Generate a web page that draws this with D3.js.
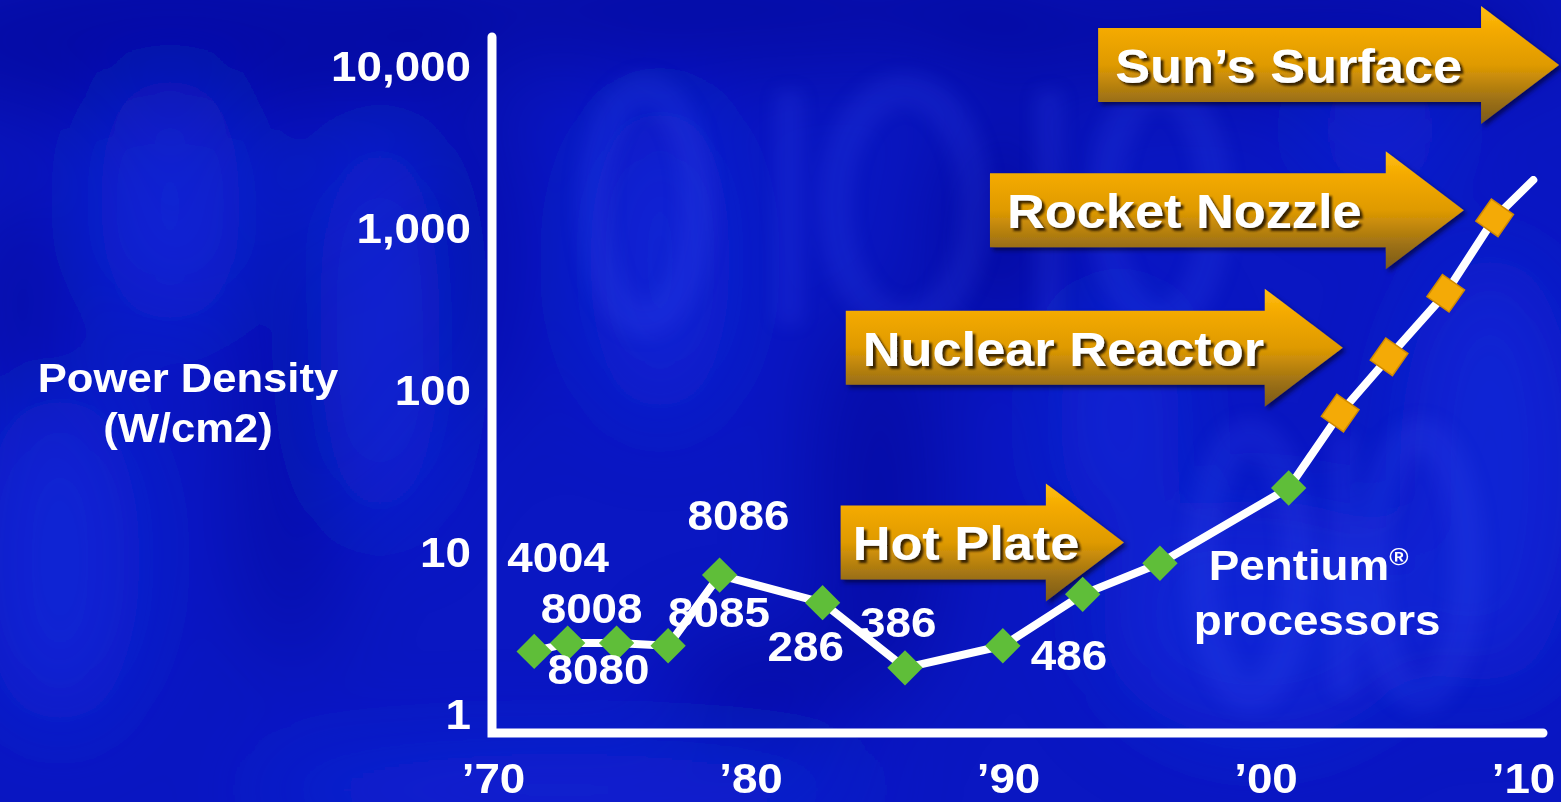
<!DOCTYPE html>
<html><head><meta charset="utf-8">
<script src="https://cdn.jsdelivr.net/npm/d3@7"></script>
<style>
html,body{margin:0;padding:0;background:#0a18c4;overflow:hidden}
svg{display:block}
text{font-family:"Liberation Sans",Arial,Helvetica,sans-serif;font-weight:bold}
</style>
</head><body>
<svg id="c" width="1561" height="802"></svg>
<script>
// ---- data ----
const yearTicks = [1970, 1980, 1990, 2000, 2010];
const yearTickLabels = ["’70", "’80", "’90", "’00", "’10"];
const densityTicks = [1, 10, 100, 1000, 10000];
const densityTickLabels = ["1", "10", "100", "1,000", "10,000"];

const chipYears   = [1971.6, 1972.9, 1974.8, 1976.8, 1978.8, 1982.8, 1986.0, 1989.8, 1992.9, 1995.9, 2000.9, 2002.9, 2004.8, 2007.0, 2008.9];
const chipDensity = [2.4, 2.7, 2.7, 2.6, 7.1, 4.8, 1.9, 2.6, 5.4, 8.4, 24.5, 71, 158, 390, 1140];
const chipKind    = ["past","past","past","past","past","past","past","past","past","past","past","projected","projected","projected","projected"];
const trendEndYear = 2010.4;
const trendEndDensity = 1950;

const chipLabels = ["4004", "8008", "8080", "8085", "8086", "286", "386", "486"];
const pentiumLabel = ["Pentium", "processors"];

const referenceNames     = ["Hot Plate", "Nuclear Reactor", "Rocket Nozzle", "Sun’s Surface"];
const referenceDensity   = [11.3, 180, 1270, 10000];
const referenceStartYear = [1983.5, 1983.7, 1989.3, 1993.5];
const referenceTipYear   = [1994.5, 2003.0, 2007.7, 2011.4];

const yTitle = ["Power Density", "(W/cm2)"];

// ---- layout ----
const W = 1561, H = 802;
const STRETCH = 1.09;
const labelOffsets = [[-27,-79],[-27,-20],[-69,41],[0,-19],[-32,-45],[-55,58],[-45,-31],[28,24]];

const svg = d3.select("#c");
const defs = svg.append("defs");

// background
const blur = defs.append("filter").attr("id","bgblur").attr("x","-50%").attr("y","-50%").attr("width","200%").attr("height","200%");
blur.append("feGaussianBlur").attr("stdDeviation", 45);
const blur2 = defs.append("filter").attr("id","wmblur").attr("x","-30%").attr("y","-30%").attr("width","160%").attr("height","160%");
blur2.append("feGaussianBlur").attr("stdDeviation", 9);

svg.append("rect").attr("width",W).attr("height",H).attr("fill","#0a17c2");
const bg = svg.append("g").attr("filter","url(#bgblur)");
const darkBlobs = [[180,40,300,90],[720,10,340,60],[1250,30,330,60],[290,430,40,240],[470,250,40,180],[880,500,60,200],[1000,230,70,120],[20,300,40,120],[760,690,90,50]];
const lightBlobs = [[60,560,80,170],[170,200,70,130],[380,330,60,200],[660,260,70,160],[1260,620,160,120],[1490,470,90,220],[560,790,320,40],[1120,420,60,120],[1380,130,60,60]];
bg.selectAll(".d").data(darkBlobs).join("ellipse").attr("cx",d=>d[0]).attr("cy",d=>d[1]).attr("rx",d=>d[2]).attr("ry",d=>d[3]).attr("fill","#01058a").attr("opacity",0.5);
bg.selectAll(".l").data(lightBlobs).join("ellipse").attr("cx",d=>d[0]).attr("cy",d=>d[1]).attr("rx",d=>d[2]).attr("ry",d=>d[3]).attr("fill","#1a30ea").attr("opacity",0.45);
// faint binary watermark drawn as shapes (rings = 0, bars = 1)
const wm = svg.append("g").attr("filter","url(#wmblur)").attr("opacity",0.14);
const wmZeros = [[645,205,52,115],[905,205,70,115],[1160,205,55,115],[1250,565,48,130],[1420,565,48,130]];
const wmOnes = [[775,90,28,235],[1035,90,28,235],[1330,435,26,260]];
wm.selectAll(".z").data(wmZeros).join("ellipse").attr("cx",d=>d[0]).attr("cy",d=>d[1]).attr("rx",d=>d[2]).attr("ry",d=>d[3])
  .attr("fill","none").attr("stroke","#4a60ff").attr("stroke-width",34);
wm.selectAll(".o").data(wmOnes).join("rect").attr("x",d=>d[0]).attr("y",d=>d[1]).attr("width",d=>d[2]).attr("height",d=>d[3])
  .attr("fill","#4a60ff");

// scales
const x = d3.scaleLinear().domain([1970, 2010]).range([493, 1523]);
const y = d3.scaleLog().domain([1, 10000]).range([713, 65]);

// gradient for arrows
const grad = defs.append("linearGradient").attr("id","gold").attr("x1",0).attr("y1",0).attr("x2",0).attr("y2",1);
[[0,"#ffbf10"],[0.2,"#f4aa00"],[0.5,"#df9a02"],[0.8,"#9c7016"],[1,"#7a5a1c"]].forEach(s=>grad.append("stop").attr("offset",s[0]).attr("stop-color",s[1]));
const sh = defs.append("filter").attr("id","ashadow").attr("x","-10%").attr("y","-20%").attr("width","130%").attr("height","150%");
sh.append("feDropShadow").attr("dx",3).attr("dy",3).attr("stdDeviation",2).attr("flood-color","#000020").attr("flood-opacity",0.6);
const tsh = defs.append("filter").attr("id","tshadow").attr("x","-5%").attr("y","-20%").attr("width","115%").attr("height","150%");
tsh.append("feDropShadow").attr("dx",3).attr("dy",3).attr("stdDeviation",0.8).attr("flood-color","#2a1800").attr("flood-opacity",0.9);

function stretchText(sel){
  sel.each(function(){
    const w = this.getComputedTextLength();
    d3.select(this).attr("textLength", w*STRETCH).attr("lengthAdjust","spacingAndGlyphs");
  });
  return sel;
}
function stext(g, tx, ty, str, size, anchor, fill){
  const t = g.append("text").attr("x",tx).attr("y",ty)
    .attr("font-size", size).attr("text-anchor", anchor || "start")
    .attr("fill", fill || "#fff").text(str);
  return stretchText(t);
}

// reference arrows
const arrows = svg.append("g");
const BODY = 37, HEAD = 59, HEADLEN = 78;
referenceNames.forEach((name, i) => {
  const x0 = x(referenceStartYear[i]), xt = x(referenceTipYear[i]), cy = y(referenceDensity[i]);
  const hb = xt - HEADLEN;
  const p = `M${x0},${cy-BODY}H${hb}V${cy-HEAD}L${xt},${cy}L${hb},${cy+HEAD}V${cy+BODY}H${x0}Z`;
  arrows.append("path").attr("d", p).attr("fill","url(#gold)").attr("filter","url(#ashadow)");
  const pad = i === 0 ? 12 : 17;
  stext(arrows, x0 + pad, cy + 18, name, 48, "start", "#ffffff").attr("filter","url(#tshadow)");
});

// axes lines
const axisG = svg.append("g");
axisG.append("path")
  .attr("d", `M${x(1970)-1},${y(10000)-28}V${y(1)+20}H${x(2010)+20}`)
  .attr("fill","none").attr("stroke","#fff").attr("stroke-width",9)
  .attr("stroke-linejoin","miter").attr("stroke-linecap","round");

// y axis labels
const yAxis = d3.axisLeft(y).tickValues(densityTicks).tickFormat((d,i)=>densityTickLabels[i]).tickSize(0).tickPadding(0);
const yg = svg.append("g").attr("transform","translate(471,0)").call(yAxis);
yg.select(".domain").remove();
yg.attr("font-family",null).attr("font-size",null);
stretchText(yg.selectAll("text").attr("x",0).attr("dy","0.36em").attr("font-size",42).attr("fill","#fff"));

// x axis labels
const xAxis = d3.axisBottom(x).tickValues(yearTicks).tickFormat((d,i)=>yearTickLabels[i]).tickSize(0).tickPadding(0);
const xg = svg.append("g").attr("transform",`translate(0,${y(1)+20})`).call(xAxis);
xg.select(".domain").remove();
xg.attr("font-family",null).attr("font-size",null);
stretchText(xg.selectAll("text").attr("y",30).attr("dy","0.71em").attr("font-size",42).attr("fill","#fff"));

// y title
yTitle.forEach((t,i)=> stext(svg, 188, 392 + i*50, t, 40, "middle"));

// trend line
const lineData = chipYears.map((yr,i)=>[yr, chipDensity[i]]).concat([[trendEndYear, trendEndDensity]]);
const line = d3.line().x(d=>x(d[0])).y(d=>y(d[1]));
svg.append("path").datum(lineData).attr("d", line).attr("fill","none")
  .attr("stroke","#fff").attr("stroke-width",8).attr("stroke-linejoin","round").attr("stroke-linecap","round");

// markers
const mk = svg.append("g");
chipYears.forEach((yr,i)=>{
  const cx = x(yr), cy = y(chipDensity[i]);
  if (chipKind[i] === "past") {
    mk.append("rect").attr("x",-12.5).attr("y",-12.5).attr("width",25).attr("height",25)
      .attr("fill","#5fbe39").attr("transform",`translate(${cx},${cy}) rotate(45)`);
  } else {
    mk.append("rect").attr("x",-13.5).attr("y",-13.5).attr("width",27).attr("height",27)
      .attr("fill","#f4aa06").attr("stroke","#d08a00").attr("stroke-width",1.5)
      .attr("transform",`translate(${cx},${cy}) rotate(35)`);
  }
});

// chip labels
const lab = svg.append("g");
chipLabels.forEach((t,i)=>{
  const cx = x(chipYears[i]), cy = y(chipDensity[i]);
  stext(lab, cx + labelOffsets[i][0], cy + labelOffsets[i][1], t, 42, "start");
});
// Pentium label (anchored to the 2000 chip)
{
  const cx = x(chipYears[10]), cy = y(chipDensity[10]);
  const t1 = stext(lab, cx - 80, cy + 92, pentiumLabel[0], 42, "start");
  const bb = t1.node().getBBox();
  stext(lab, cx - 80 + bb.width, cy + 77, "®", 24, "start");
  stext(lab, cx - 95, cy + 147, pentiumLabel[1], 42, "start");
}
</script>
</body></html>
